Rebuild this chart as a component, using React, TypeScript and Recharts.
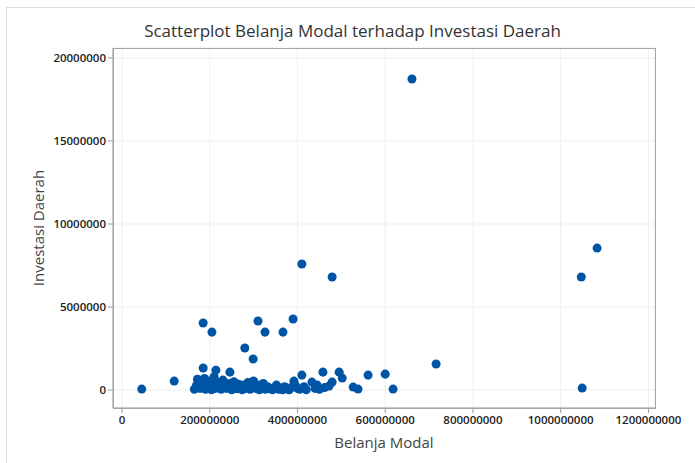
import { ScatterChart, Scatter, XAxis, YAxis, ZAxis, CartesianGrid } from "recharts";

// Belanja Modal (x) and Investasi Daerah (y), both in rupiah
const belanjaModal = [
  45, 119, 661, 410, 479, 1047, 1083, 1049, 716, 185, 205, 310, 326, 367, 390, 280, 299, 185, 214, 246,
  410, 458, 495, 502, 392, 433, 479, 472, 527, 538, 561, 600, 618,
  165, 170, 172, 178, 180, 185, 188, 190, 195, 198, 200, 204, 208, 210, 213, 218, 222, 226, 230, 234,
  238, 242, 247, 250, 255, 258, 262, 266, 270, 274, 278, 283, 287, 292, 296, 300, 305, 309, 313, 318,
  322, 327, 332, 338, 343, 348, 352, 357, 362, 366, 371, 376, 381, 386, 395, 400, 405, 415, 420, 440,
  445, 450, 462,
];
const investasiDaerah = [
  0.06, 0.54, 18.73, 7.59, 6.81, 6.81, 8.55, 0.12, 1.57, 4.04, 3.49, 4.16, 3.49, 3.49, 4.28, 2.53, 1.87, 1.33, 1.2, 1.08,
  0.9, 1.08, 1.08, 0.72, 0.54, 0.48, 0.48, 0.24, 0.18, 0.06, 0.9, 0.96, 0.06,
  0.05, 0.3, 0.65, 0.1, 0.45, 0.2, 0.7, 0.05, 0.35, 0.15, 0.55, 0.02, 0.3, 0.8, 0.1, 0.45, 0.2, 0.05, 0.6, 0.3,
  0.1, 0.4, 0.15, 0.02, 0.5, 0.25, 0.08, 0.35, 0.12, 0.02, 0.3, 0.1, 0.45, 0.05, 0.2, 0.55, 0.1, 0.3, 0.02, 0.15,
  0.4, 0.05, 0.2, 0.08, 0.02, 0.15, 0.3, 0.05, 0.12, 0.02, 0.2, 0.08, 0.02, 0.15, 0.3, 0.1, 0.05, 0.2, 0.02, 0.1,
  0.3, 0.05, 0.15,
];

const xTicks = [0, 200000000, 400000000, 600000000, 800000000, 1000000000, 1200000000];
const yTicks = [0, 5000000, 10000000, 15000000, 20000000];

const data = belanjaModal.map((x, i) => ({
  belanja: x * 1000000,
  investasi: investasiDaerah[i] * 1000000,
}));

const font = "'Open Sans', 'Noto Sans', sans-serif";
const tickStyle = { fill: "#222", fontSize: 11.5, fontWeight: 600, fontFamily: font };

export default function App() {
  return (
    <div style={{ position: "absolute", left: 0, top: 0, width: 695, height: 463, background: "#fff" }}>
      <div
        style={{
          position: "absolute",
          left: 6,
          top: 7,
          width: 700,
          height: 470,
          border: "1px solid #dcdcdc",
        }}
      />
      <div
        style={{
          position: "absolute",
          left: 0,
          top: 19,
          width: 705,
          textAlign: "center",
          fontFamily: font,
          fontSize: 17,
          fontWeight: 500,
          color: "#333",
        }}
      >
        Scatterplot Belanja Modal terhadap Investasi Daerah
      </div>
      <ScatterChart
        width={695}
        height={463}
        margin={{ top: 48, right: 40, left: 0, bottom: 25 }}
        style={{ position: "absolute", left: 0, top: 0 }}
      >
        <CartesianGrid stroke="#efefef" fill="#fff" />
        <XAxis
          type="number"
          dataKey="belanja"
          domain={[-20500000, 1215000000]}
          ticks={xTicks}
          allowDataOverflow
          height={30}
          tickSize={5}
          tickMargin={3}
          stroke="#999"
          tick={tickStyle}
          label={{
            value: "Belanja Modal",
            position: "insideBottom",
            offset: -10,
            style: { fill: "#444", fontSize: 15, fontFamily: font },
          }}
        />
        <YAxis
          type="number"
          dataKey="investasi"
          domain={[-1080000, 20600000]}
          ticks={yTicks}
          allowDataOverflow
          width={113}
          tickSize={5}
          tickMargin={2}
          stroke="#999"
          tick={tickStyle}
          label={{
            value: "Investasi Daerah",
            angle: -90,
            position: "insideLeft",
            offset: 0,
            dx: 39,
            style: { fill: "#444", fontSize: 15, fontFamily: font, textAnchor: "middle" },
          }}
        />
        <ZAxis range={[110, 110]} />
        <Scatter data={data} fill="#0054a6" isAnimationActive={false} />
      </ScatterChart>
      <div
        style={{
          position: "absolute",
          left: 113,
          top: 48,
          width: 541,
          height: 359,
          border: "1px solid #a6a6a6",
          pointerEvents: "none",
        }}
      />
    </div>
  );
}
